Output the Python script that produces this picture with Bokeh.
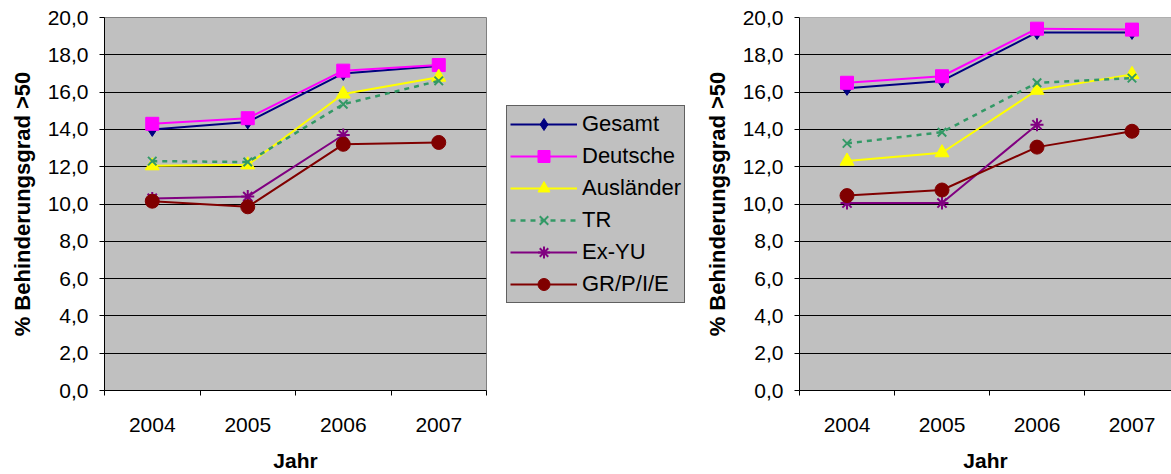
from bokeh.plotting import figure
from bokeh.models import (FixedTicker, Range1d, Legend, LegendItem, Span)
from bokeh.layouts import row
from bokeh.embed import file_html
from bokeh.resources import INLINE

nan = float("nan")

years = ["2004", "2005", "2006", "2007"]
series_names = ["Gesamt", "Deutsche", "Ausländer", "TR", "Ex-YU", "GR/P/I/E"]

# left chart values
left_gesamt = [14.0, 14.4, 17.0, 17.4]
left_deutsche = [14.3, 14.6, 17.15, 17.45]
left_auslaender = [12.05, 12.1, 15.9, 16.8]
left_tr = [12.3, 12.25, 15.35, 16.6]
left_exyu = [10.3, 10.4, 13.7, nan]
left_grpie = [10.15, 9.85, 13.2, 13.3]

# right chart values
right_gesamt = [16.2, 16.6, 19.2, 19.2]
right_deutsche = [16.5, 16.85, 19.4, 19.35]
right_auslaender = [12.3, 12.75, 16.1, 16.95]
right_tr = [13.25, 13.85, 16.5, 16.75]
right_exyu = [10.05, 10.05, 14.25, nan]
right_grpie = [10.45, 10.75, 13.05, 13.9]

y_ticks = [0, 2, 4, 6, 8, 10, 12, 14, 16, 18, 20]

FONT = "Liberation Sans"
BG = "#C0C0C0"

styles = [
    dict(color="#000080", marker="diamond", size=14, dash="solid", lw=2),
    dict(color="#FF00FF", marker="square", size=13, dash="solid", lw=2),
    dict(color="#FFFF00", marker="triangle", size=14, dash="solid", lw=2),
    dict(color="#339966", marker="x", size=12, dash="5 5", lw=2.5),
    dict(color="#800080", marker="asterisk", size=13, dash="solid", lw=2),
    dict(color="#800000", marker="circle", size=14, dash="solid", lw=2),
]

xpos = [i + 0.5 for i in range(len(years))]

H = 474


def add_series(p, series):
    items = []
    for name, vals, st in zip(series_names, series, styles):
        lr = p.line(xpos, vals, line_color=st["color"], line_width=st["lw"], line_dash=st["dash"])
        if st["marker"] in ("x", "asterisk"):
            sr = p.scatter(xpos, vals, marker=st["marker"], size=st["size"],
                           line_color=st["color"], line_width=2)
        else:
            sr = p.scatter(xpos, vals, marker=st["marker"], size=st["size"],
                           fill_color=st["color"], line_color=st["color"], line_width=1)
        items.append(LegendItem(label=name, renderers=[lr, sr]))
    return items


def make_fig(width, left, right, top, bottom, x_end, series, outline=True):
    p = figure(width=width, height=H, output_backend="svg", toolbar_location=None,
               x_range=Range1d(0, x_end), y_range=Range1d(0, 20),
               min_border_left=left, min_border_right=right,
               min_border_top=top, min_border_bottom=bottom,
               border_fill_color="white")
    p.background_fill_color = BG
    if outline:
        p.outline_line_color = "#808080"
        p.outline_line_width = 1
    else:
        p.outline_line_color = None
        p.add_layout(Span(location=20, dimension="width", line_color="#808080", line_width=1))
    p.xgrid.visible = False
    p.ygrid.ticker = FixedTicker(ticks=y_ticks[1:-1])
    p.ygrid.grid_line_color = "black"
    p.ygrid.grid_line_width = 1

    p.yaxis.ticker = FixedTicker(ticks=y_ticks)
    p.yaxis.major_label_overrides = {t: f"{t},0" for t in y_ticks}
    p.yaxis.major_tick_out = 5
    p.yaxis.major_tick_in = 0
    p.yaxis.major_label_standoff = 11
    p.yaxis.axis_label = "% Behinderungsgrad >50"
    p.yaxis.axis_label_standoff = 10

    p.xaxis.ticker = FixedTicker(ticks=xpos, minor_ticks=[0, 1, 2, 3, 4])
    p.xaxis.major_label_overrides = {x: y for x, y in zip(xpos, years)}
    p.xaxis.major_tick_line_color = None
    p.xaxis.major_tick_out = 0
    p.xaxis.major_tick_in = 0
    p.xaxis.minor_tick_out = 5
    p.xaxis.minor_tick_in = 0
    p.xaxis.minor_tick_line_color = "black"
    p.xaxis.major_label_standoff = 22
    p.xaxis.axis_label = "Jahr"
    p.xaxis.axis_label_standoff = 14

    for ax in (p.xaxis, p.yaxis):
        ax.axis_line_color = "black"
        ax.axis_line_width = 1
        ax.major_label_text_font = FONT
        ax.major_label_text_font_size = "21px"
        ax.major_label_text_color = "black"
        ax.axis_label_text_font = FONT
        ax.axis_label_text_font_size = "21px"
        ax.axis_label_text_font_style = "bold"
        ax.axis_label_text_color = "black"
    p.yaxis.axis_label_text_font_size = "22px"
    p.yaxis.major_tick_line_color = "black"

    add_series(p, series)
    return p


left_series = [left_gesamt, left_deutsche, left_auslaender, left_tr, left_exyu, left_grpie]
right_series = [right_gesamt, right_deutsche, right_auslaender, right_tr, right_exyu, right_grpie]

# left chart: x 0..496, frame 104..486, 17..394
p1 = make_fig(496, 104, 10, 17, 80, 4, left_series, outline=True)

# legend figure: x 496..700 (its glyphs lie outside its visible range)
pL = figure(width=204, height=H, output_backend="svg", toolbar_location=None,
            x_range=Range1d(100, 101), y_range=Range1d(100, 101),
            x_axis_type=None, y_axis_type=None,
            min_border_left=0, min_border_right=0, min_border_top=0, min_border_bottom=0,
            border_fill_color="white")
pL.background_fill_color = "white"
pL.outline_line_color = None
pL.grid.visible = False
legend_items = add_series(pL, left_series)
legend = Legend(items=legend_items, location=(10, 87), margin=0,
                glyph_width=67, glyph_height=30, spacing=2, padding=3,
                label_standoff=5, label_text_font=FONT, label_text_font_size="22px",
                label_text_color="black",
                background_fill_color=BG, background_fill_alpha=1,
                border_line_color="black", border_line_width=1)
pL.add_layout(legend, "center")

# right chart: x 700..1171, frame 799..1171 (cut at the window edge)
p2 = make_fig(471, 99, 0, 15, 80, 372 / 95, right_series, outline=False)

layout = row(p1, pL, p2)

open("out.html", "w").write(file_html(layout, INLINE))
